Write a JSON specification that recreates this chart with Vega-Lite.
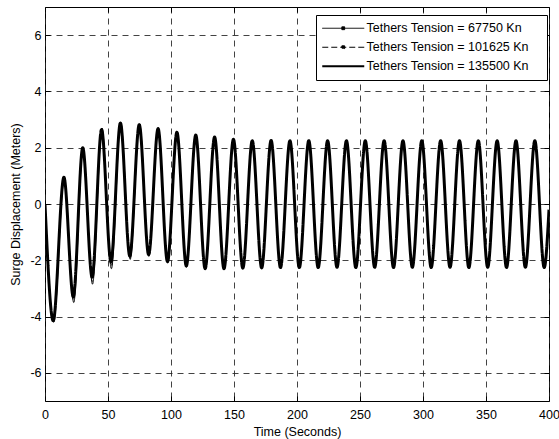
{
  "$schema": "https://vega.github.io/schema/vega-lite/v6.json",
  "width": 504,
  "height": 394,
  "autosize": "none",
  "padding": {"left": 45, "top": 7, "right": 10, "bottom": 38},
  "background": "white",
  "config": {
    "view": {"stroke": "black", "strokeWidth": 1},
    "font": "Liberation Sans",
    "axis": {
      "labelFont": "Liberation Sans",
      "labelFontSize": 12.5,
      "labelColor": "black",
      "titleFont": "Liberation Sans",
      "titleFontSize": 12.5,
      "titleFontWeight": "normal",
      "titleColor": "black",
      "domain": false,
      "tickColor": "black",
      "tickSize": -5,
      "gridColor": "#222222",
      "gridOpacity": 0.85,
      "gridDash": [6, 5],
      "gridWidth": 1
    }
  },
  "datasets": {
    "surge": [
      {"s": "Tethers Tension = 135500 Kn", "t": 0, "v": 0},
      {"s": "Tethers Tension = 135500 Kn", "t": 6.5, "v": -4.15},
      {"s": "Tethers Tension = 135500 Kn", "t": 15.0, "v": 0.95},
      {"s": "Tethers Tension = 135500 Kn", "t": 22.45, "v": -3.3},
      {"s": "Tethers Tension = 135500 Kn", "t": 29.95, "v": 2.0},
      {"s": "Tethers Tension = 135500 Kn", "t": 37.4, "v": -2.6},
      {"s": "Tethers Tension = 135500 Kn", "t": 44.9, "v": 2.65},
      {"s": "Tethers Tension = 135500 Kn", "t": 52.35, "v": -2.05},
      {"s": "Tethers Tension = 135500 Kn", "t": 59.85, "v": 2.88},
      {"s": "Tethers Tension = 135500 Kn", "t": 67.3, "v": -1.85},
      {"s": "Tethers Tension = 135500 Kn", "t": 74.8, "v": 2.82},
      {"s": "Tethers Tension = 135500 Kn", "t": 82.25, "v": -1.8},
      {"s": "Tethers Tension = 135500 Kn", "t": 89.75, "v": 2.68},
      {"s": "Tethers Tension = 135500 Kn", "t": 97.2, "v": -2.05},
      {"s": "Tethers Tension = 135500 Kn", "t": 104.7, "v": 2.55},
      {"s": "Tethers Tension = 135500 Kn", "t": 112.15, "v": -2.2},
      {"s": "Tethers Tension = 135500 Kn", "t": 119.65, "v": 2.45},
      {"s": "Tethers Tension = 135500 Kn", "t": 127.1, "v": -2.3},
      {"s": "Tethers Tension = 135500 Kn", "t": 134.6, "v": 2.38},
      {"s": "Tethers Tension = 135500 Kn", "t": 142.05, "v": -2.3},
      {"s": "Tethers Tension = 135500 Kn", "t": 149.55, "v": 2.3},
      {"s": "Tethers Tension = 135500 Kn", "t": 157.0, "v": -2.28},
      {"s": "Tethers Tension = 135500 Kn", "t": 164.5, "v": 2.25},
      {"s": "Tethers Tension = 135500 Kn", "t": 171.95, "v": -2.27},
      {"s": "Tethers Tension = 135500 Kn", "t": 179.45, "v": 2.26},
      {"s": "Tethers Tension = 135500 Kn", "t": 186.9, "v": -2.26},
      {"s": "Tethers Tension = 135500 Kn", "t": 194.4, "v": 2.25},
      {"s": "Tethers Tension = 135500 Kn", "t": 201.85, "v": -2.26},
      {"s": "Tethers Tension = 135500 Kn", "t": 209.35, "v": 2.25},
      {"s": "Tethers Tension = 135500 Kn", "t": 216.8, "v": -2.26},
      {"s": "Tethers Tension = 135500 Kn", "t": 224.3, "v": 2.25},
      {"s": "Tethers Tension = 135500 Kn", "t": 231.75, "v": -2.25},
      {"s": "Tethers Tension = 135500 Kn", "t": 239.25, "v": 2.25},
      {"s": "Tethers Tension = 135500 Kn", "t": 246.7, "v": -2.26},
      {"s": "Tethers Tension = 135500 Kn", "t": 254.2, "v": 2.25},
      {"s": "Tethers Tension = 135500 Kn", "t": 261.65, "v": -2.25},
      {"s": "Tethers Tension = 135500 Kn", "t": 269.15, "v": 2.25},
      {"s": "Tethers Tension = 135500 Kn", "t": 276.6, "v": -2.26},
      {"s": "Tethers Tension = 135500 Kn", "t": 284.1, "v": 2.25},
      {"s": "Tethers Tension = 135500 Kn", "t": 291.55, "v": -2.25},
      {"s": "Tethers Tension = 135500 Kn", "t": 299.05, "v": 2.25},
      {"s": "Tethers Tension = 135500 Kn", "t": 306.5, "v": -2.26},
      {"s": "Tethers Tension = 135500 Kn", "t": 314.0, "v": 2.25},
      {"s": "Tethers Tension = 135500 Kn", "t": 321.45, "v": -2.25},
      {"s": "Tethers Tension = 135500 Kn", "t": 328.95, "v": 2.25},
      {"s": "Tethers Tension = 135500 Kn", "t": 336.4, "v": -2.26},
      {"s": "Tethers Tension = 135500 Kn", "t": 343.9, "v": 2.25},
      {"s": "Tethers Tension = 135500 Kn", "t": 351.35, "v": -2.25},
      {"s": "Tethers Tension = 135500 Kn", "t": 358.85, "v": 2.25},
      {"s": "Tethers Tension = 135500 Kn", "t": 366.3, "v": -2.26},
      {"s": "Tethers Tension = 135500 Kn", "t": 373.8, "v": 2.25},
      {"s": "Tethers Tension = 135500 Kn", "t": 381.25, "v": -2.25},
      {"s": "Tethers Tension = 135500 Kn", "t": 388.75, "v": 2.25},
      {"s": "Tethers Tension = 135500 Kn", "t": 396.2, "v": -2.26},
      {"s": "Tethers Tension = 135500 Kn", "t": 400, "v": -0.2},

      {"s": "Tethers Tension = 67750 Kn", "t": 0, "v": 0},
      {"s": "Tethers Tension = 67750 Kn", "t": 6.9, "v": -4.2},
      {"s": "Tethers Tension = 67750 Kn", "t": 15.3, "v": 0.9},
      {"s": "Tethers Tension = 67750 Kn", "t": 22.8, "v": -3.5},
      {"s": "Tethers Tension = 67750 Kn", "t": 30.2, "v": 1.95},
      {"s": "Tethers Tension = 67750 Kn", "t": 37.7, "v": -2.85},
      {"s": "Tethers Tension = 67750 Kn", "t": 45.2, "v": 2.7},
      {"s": "Tethers Tension = 67750 Kn", "t": 52.7, "v": -2.3},
      {"s": "Tethers Tension = 67750 Kn", "t": 60.1, "v": 2.9},
      {"s": "Tethers Tension = 67750 Kn", "t": 67.6, "v": -1.97},
      {"s": "Tethers Tension = 67750 Kn", "t": 75.0, "v": 2.85},
      {"s": "Tethers Tension = 67750 Kn", "t": 82.45, "v": -1.86},
      {"s": "Tethers Tension = 67750 Kn", "t": 89.9, "v": 2.7},
      {"s": "Tethers Tension = 67750 Kn", "t": 97.4, "v": -2.1},
      {"s": "Tethers Tension = 67750 Kn", "t": 104.85, "v": 2.56},
      {"s": "Tethers Tension = 67750 Kn", "t": 112.3, "v": -2.25},
      {"s": "Tethers Tension = 67750 Kn", "t": 119.8, "v": 2.45},
      {"s": "Tethers Tension = 67750 Kn", "t": 127.2, "v": -2.33},
      {"s": "Tethers Tension = 67750 Kn", "t": 134.7, "v": 2.38},
      {"s": "Tethers Tension = 67750 Kn", "t": 142.15, "v": -2.32},
      {"s": "Tethers Tension = 67750 Kn", "t": 149.6, "v": 2.3},
      {"s": "Tethers Tension = 67750 Kn", "t": 157.05, "v": -2.3},
      {"s": "Tethers Tension = 67750 Kn", "t": 164.55, "v": 2.26},
      {"s": "Tethers Tension = 67750 Kn", "t": 172.0, "v": -2.29},
      {"s": "Tethers Tension = 67750 Kn", "t": 179.5, "v": 2.27},
      {"s": "Tethers Tension = 67750 Kn", "t": 186.95, "v": -2.28},
      {"s": "Tethers Tension = 67750 Kn", "t": 194.45, "v": 2.26},
      {"s": "Tethers Tension = 67750 Kn", "t": 201.9, "v": -2.28},
      {"s": "Tethers Tension = 67750 Kn", "t": 209.4, "v": 2.26},
      {"s": "Tethers Tension = 67750 Kn", "t": 216.85, "v": -2.28},
      {"s": "Tethers Tension = 67750 Kn", "t": 224.35, "v": 2.26},
      {"s": "Tethers Tension = 67750 Kn", "t": 231.8, "v": -2.27},
      {"s": "Tethers Tension = 67750 Kn", "t": 239.3, "v": 2.26},
      {"s": "Tethers Tension = 67750 Kn", "t": 246.75, "v": -2.28},
      {"s": "Tethers Tension = 67750 Kn", "t": 254.25, "v": 2.26},
      {"s": "Tethers Tension = 67750 Kn", "t": 261.7, "v": -2.27},
      {"s": "Tethers Tension = 67750 Kn", "t": 269.2, "v": 2.26},
      {"s": "Tethers Tension = 67750 Kn", "t": 276.65, "v": -2.28},
      {"s": "Tethers Tension = 67750 Kn", "t": 284.15, "v": 2.26},
      {"s": "Tethers Tension = 67750 Kn", "t": 291.6, "v": -2.27},
      {"s": "Tethers Tension = 67750 Kn", "t": 299.1, "v": 2.26},
      {"s": "Tethers Tension = 67750 Kn", "t": 306.55, "v": -2.28},
      {"s": "Tethers Tension = 67750 Kn", "t": 314.05, "v": 2.26},
      {"s": "Tethers Tension = 67750 Kn", "t": 321.5, "v": -2.27},
      {"s": "Tethers Tension = 67750 Kn", "t": 329.0, "v": 2.26},
      {"s": "Tethers Tension = 67750 Kn", "t": 336.45, "v": -2.28},
      {"s": "Tethers Tension = 67750 Kn", "t": 343.95, "v": 2.26},
      {"s": "Tethers Tension = 67750 Kn", "t": 351.4, "v": -2.27},
      {"s": "Tethers Tension = 67750 Kn", "t": 358.9, "v": 2.26},
      {"s": "Tethers Tension = 67750 Kn", "t": 366.35, "v": -2.28},
      {"s": "Tethers Tension = 67750 Kn", "t": 373.85, "v": 2.26},
      {"s": "Tethers Tension = 67750 Kn", "t": 381.3, "v": -2.27},
      {"s": "Tethers Tension = 67750 Kn", "t": 388.8, "v": 2.26},
      {"s": "Tethers Tension = 67750 Kn", "t": 396.25, "v": -2.28},
      {"s": "Tethers Tension = 67750 Kn", "t": 400, "v": -0.25},

      {"s": "Tethers Tension = 101625 Kn", "t": 0, "v": 0},
      {"s": "Tethers Tension = 101625 Kn", "t": 6.7, "v": -4.18},
      {"s": "Tethers Tension = 101625 Kn", "t": 15.15, "v": 0.92},
      {"s": "Tethers Tension = 101625 Kn", "t": 22.6, "v": -3.42},
      {"s": "Tethers Tension = 101625 Kn", "t": 30.05, "v": 1.98},
      {"s": "Tethers Tension = 101625 Kn", "t": 37.55, "v": -2.75},
      {"s": "Tethers Tension = 101625 Kn", "t": 45.05, "v": 2.68},
      {"s": "Tethers Tension = 101625 Kn", "t": 52.5, "v": -2.2},
      {"s": "Tethers Tension = 101625 Kn", "t": 59.95, "v": 2.9},
      {"s": "Tethers Tension = 101625 Kn", "t": 67.45, "v": -1.92},
      {"s": "Tethers Tension = 101625 Kn", "t": 74.9, "v": 2.84},
      {"s": "Tethers Tension = 101625 Kn", "t": 82.35, "v": -1.83},
      {"s": "Tethers Tension = 101625 Kn", "t": 89.8, "v": 2.69},
      {"s": "Tethers Tension = 101625 Kn", "t": 97.3, "v": -2.08},
      {"s": "Tethers Tension = 101625 Kn", "t": 104.75, "v": 2.55},
      {"s": "Tethers Tension = 101625 Kn", "t": 112.2, "v": -2.23},
      {"s": "Tethers Tension = 101625 Kn", "t": 119.7, "v": 2.45},
      {"s": "Tethers Tension = 101625 Kn", "t": 127.15, "v": -2.32},
      {"s": "Tethers Tension = 101625 Kn", "t": 134.65, "v": 2.38},
      {"s": "Tethers Tension = 101625 Kn", "t": 142.1, "v": -2.31},
      {"s": "Tethers Tension = 101625 Kn", "t": 149.55, "v": 2.3},
      {"s": "Tethers Tension = 101625 Kn", "t": 157.0, "v": -2.29},
      {"s": "Tethers Tension = 101625 Kn", "t": 164.5, "v": 2.25},
      {"s": "Tethers Tension = 101625 Kn", "t": 171.95, "v": -2.28},
      {"s": "Tethers Tension = 101625 Kn", "t": 179.45, "v": 2.26},
      {"s": "Tethers Tension = 101625 Kn", "t": 186.9, "v": -2.27},
      {"s": "Tethers Tension = 101625 Kn", "t": 194.4, "v": 2.26},
      {"s": "Tethers Tension = 101625 Kn", "t": 201.85, "v": -2.27},
      {"s": "Tethers Tension = 101625 Kn", "t": 209.35, "v": 2.26},
      {"s": "Tethers Tension = 101625 Kn", "t": 216.8, "v": -2.27},
      {"s": "Tethers Tension = 101625 Kn", "t": 224.3, "v": 2.26},
      {"s": "Tethers Tension = 101625 Kn", "t": 231.75, "v": -2.26},
      {"s": "Tethers Tension = 101625 Kn", "t": 239.25, "v": 2.26},
      {"s": "Tethers Tension = 101625 Kn", "t": 246.7, "v": -2.27},
      {"s": "Tethers Tension = 101625 Kn", "t": 254.2, "v": 2.26},
      {"s": "Tethers Tension = 101625 Kn", "t": 261.65, "v": -2.26},
      {"s": "Tethers Tension = 101625 Kn", "t": 269.15, "v": 2.26},
      {"s": "Tethers Tension = 101625 Kn", "t": 276.6, "v": -2.27},
      {"s": "Tethers Tension = 101625 Kn", "t": 284.1, "v": 2.26},
      {"s": "Tethers Tension = 101625 Kn", "t": 291.55, "v": -2.26},
      {"s": "Tethers Tension = 101625 Kn", "t": 299.05, "v": 2.26},
      {"s": "Tethers Tension = 101625 Kn", "t": 306.5, "v": -2.27},
      {"s": "Tethers Tension = 101625 Kn", "t": 314.0, "v": 2.26},
      {"s": "Tethers Tension = 101625 Kn", "t": 321.45, "v": -2.26},
      {"s": "Tethers Tension = 101625 Kn", "t": 328.95, "v": 2.26},
      {"s": "Tethers Tension = 101625 Kn", "t": 336.4, "v": -2.27},
      {"s": "Tethers Tension = 101625 Kn", "t": 343.9, "v": 2.26},
      {"s": "Tethers Tension = 101625 Kn", "t": 351.35, "v": -2.26},
      {"s": "Tethers Tension = 101625 Kn", "t": 358.85, "v": 2.26},
      {"s": "Tethers Tension = 101625 Kn", "t": 366.3, "v": -2.27},
      {"s": "Tethers Tension = 101625 Kn", "t": 373.8, "v": 2.26},
      {"s": "Tethers Tension = 101625 Kn", "t": 381.25, "v": -2.26},
      {"s": "Tethers Tension = 101625 Kn", "t": 388.75, "v": 2.26},
      {"s": "Tethers Tension = 101625 Kn", "t": 396.2, "v": -2.27},
      {"s": "Tethers Tension = 101625 Kn", "t": 400, "v": -0.22}
    ]
  },
  "data": {"name": "surge"},
  "layer": [
    {
      "layer": [
        {
          "transform": [{"filter": "datum.s === 'Tethers Tension = 135500 Kn'"}],
          "mark": {"type": "line", "color": "black", "strokeWidth": 3, "interpolate": "monotone", "clip": true},
          "encoding": {
            "x": {"field": "t", "type": "quantitative", "scale": {"domain": [0, 400], "nice": false, "zero": false},
              "axis": {"title": "Time (Seconds)", "values": [0, 50, 100, 150, 200, 250, 300, 350, 400], "grid": true, "labelPadding": 12, "titlePadding": 5, "labelFlush": false}},
            "y": {"field": "v", "type": "quantitative", "scale": {"domain": [-7, 7], "nice": false, "zero": false},
              "axis": {"title": "Surge Displacement (Meters)", "values": [-6, -4, -2, 0, 2, 4, 6], "grid": true, "labelPadding": 9, "titlePadding": 7, "labelExpr": "'' + datum.value"}},
            "strokeDash": {"field": "s", "type": "nominal",
              "scale": {"domain": ["Tethers Tension = 67750 Kn", "Tethers Tension = 101625 Kn", "Tethers Tension = 135500 Kn"], "range": [[1, 0], [6, 3], [1, 0]]},
              "legend": {
                "title": null,
                "orient": "none",
                "legendX": 271,
                "legendY": 8,
                "strokeColor": "black",
                "fillColor": "white",
                "padding": 7,
                "rowPadding": 6,
                "labelFont": "Liberation Sans",
                "labelFontSize": 12.5,
                "labelColor": "black",
                "labelLimit": 400,
                "labelOffset": 31,
                "symbolType": "M-1,0H5",
                "symbolSize": 196,
                "symbolStrokeColor": "black",
                "labelExpr": "datum.label + '\u00a0\u00a0\u00a0\u200b'",
                "encode": {
                  "symbols": {
                    "update": {
                      "strokeWidth": {"signal": "datum.value === 'Tethers Tension = 135500 Kn' ? 2.2 : 1"},
                      "shape": {"signal": "datum.value === 'Tethers Tension = 135500 Kn' ? 'M-1,0H5' : 'M-1,0H5M1.8,-0.2H2.2V0.2H1.8Z'"},
                      "fill": {"value": "black"},
                      "stroke": {"value": "black"}
                    }
                  }
                }
              }
            }
          }
        },
        {
          "transform": [{"filter": "datum.s !== 'Tethers Tension = 135500 Kn'"}],
          "mark": {"type": "line", "color": "black", "strokeWidth": 1, "interpolate": "monotone", "clip": true},
          "encoding": {
            "x": {"field": "t", "type": "quantitative"},
            "y": {"field": "v", "type": "quantitative"},
            "strokeDash": {"field": "s", "type": "nominal"}
          }
        }
      ]
    },
    {
      "mark": {"type": "line", "strokeOpacity": 0, "interpolate": "monotone"},
      "encoding": {
        "x": {"field": "t", "type": "quantitative", "scale": {"domain": [0, 400], "nice": false, "zero": false},
          "axis": {"orient": "top", "title": null, "labels": false, "grid": false, "values": [0, 50, 100, 150, 200, 250, 300, 350, 400]}},
        "y": {"field": "v", "type": "quantitative", "scale": {"domain": [-7, 7], "nice": false, "zero": false},
          "axis": {"orient": "right", "title": null, "labels": false, "grid": false, "values": [-6, -4, -2, 0, 2, 4, 6]}},
        "detail": {"field": "s", "type": "nominal"}
      }
    }
  ],
  "resolve": {"scale": {"x": "independent", "y": "independent"}}
}
